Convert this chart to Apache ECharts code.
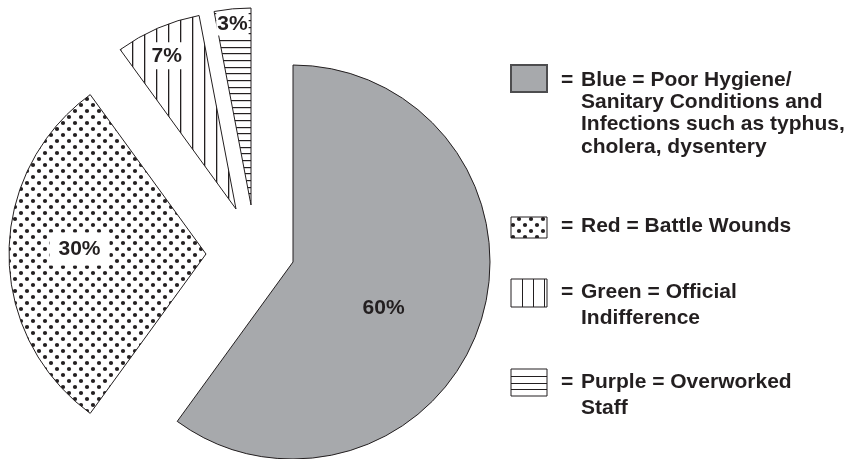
<!DOCTYPE html>
<html>
<head>
<meta charset="utf-8">
<script src="https://cdn.jsdelivr.net/npm/echarts@6/dist/echarts.min.js"></script>
<style>
  html, body { margin: 0; padding: 0; background: #fff; }
  #chart { width: 852px; height: 459px; }
</style>
</head>
<body>
<div id="chart"></div>
<script>
// Causes of death and their shares (%)
const causes = ['Poor Hygiene', 'Battle Wounds', 'Official Indifference', 'Overworked Staff'];
const shares = [60, 30, 7, 3];

// Legend wording, one array of lines per cause
const legendLines = [
  ['Blue = Poor Hygiene/', 'Sanitary Conditions and', 'Infections such as typhus,', 'cholera, dysentery'],
  ['Red = Battle Wounds'],
  ['Green = Official', 'Indifference'],
  ['Purple = Overworked', 'Staff']
];

const INK = '#231f20';
const GREY = '#a7a9ac';
const FONT = '"Liberation Sans", Arial, Helvetica, sans-serif';
const FONT_SIZE = 21;

// Hatch / dot tiles used as pattern fills
function tile(w, h, draw) {
  const c = document.createElement('canvas');
  c.width = w; c.height = h;
  const g = c.getContext('2d');
  g.fillStyle = '#fff';
  g.fillRect(0, 0, w, h);
  g.fillStyle = INK;
  draw(g);
  return c;
}
const dotTile = tile(12, 12, g => {
  [[3, 3], [9, 9]].forEach(([x, y]) => {
    g.beginPath(); g.arc(x, y, 2.1, 0, Math.PI * 2); g.fill();
  });
});
const vTile = tile(12, 12, g => g.fillRect(0, 0, 1.3, 12));
const hTile = tile(20, 20, g => [0, 7, 13].forEach(y => g.fillRect(0, y, 20, 1.2)));

const fills = [
  GREY,
  { image: dotTile, repeat: 'repeat' },
  { image: vTile, repeat: 'repeat' },
  { image: hTile, repeat: 'repeat' }
];

// Each slice is pulled out from its own centre (exploded pie)
const sliceCenters = [[293, 262], [206, 254], [236, 209], [251, 205]];
const RADIUS = 197;
const labelOffsets = [[-6, 15], [-25, -5], [-29, -60], [-9, -80]];
const labelBgs = ['transparent', '#fff', '#fff', '#fff'];
const labelPads = [[0, 0], [6, 9], [3, 4], [1, 1]];

const series = shares.map((_, k) => ({
  type: 'pie',
  center: sliceCenters[k],
  radius: RADIUS,
  startAngle: 90,
  clockwise: true,
  silent: true,
  animation: false,
  avoidLabelOverlap: false,
  z: 2 + k,
  labelLine: { show: false },
  emphasis: { disabled: true },
  label: {
    position: 'inside',
    formatter: p => p.value + '%',
    fontSize: FONT_SIZE,
    fontWeight: 'bold',
    fontFamily: FONT,
    color: INK,
    offset: labelOffsets[k],
    backgroundColor: labelBgs[k],
    padding: labelPads[k]
  },
  data: shares.map((v, i) => ({
    name: causes[i],
    value: v,
    itemStyle: i === k
      ? { color: fills[i], borderColor: INK, borderWidth: 1 }
      : { color: 'rgba(0,0,0,0)', borderWidth: 0 },
    label: { show: i === k }
  }))
}));

// Legend drawn as graphic elements
const boxes = [[511, 65, 36, 27], [511, 217, 36, 21], [511, 279, 36, 28], [511, 369, 36, 27]];
const firstLineY = [80, 226, 292.5, 382.5];
const lineGaps = [22.3, 22, 26, 26];
const graphic = [];
boxes.forEach(([x, y, w, h], i) => {
  if (i === 0) {
    graphic.push({ type: 'rect', shape: { x, y, width: w, height: h },
      style: { fill: GREY, stroke: '#4d4d4f', lineWidth: 2 } });
  } else if (i === 1) {
    graphic.push({ type: 'rect', shape: { x, y, width: w, height: h },
      style: { fill: { image: dotTile, repeat: 'repeat' }, stroke: INK, lineWidth: 1 } });
  } else {
    graphic.push({ type: 'rect', shape: { x, y, width: w, height: h },
      style: { fill: '#fff', stroke: INK, lineWidth: 1 } });
    const n = 3;
    for (let j = 1; j <= n; j++) {
      if (i === 2) {
        const lx = x + Math.round(w * j / (n + 0.3)) + 0.5;
        graphic.push({ type: 'line', shape: { x1: lx, y1: y, x2: lx, y2: y + h }, style: { stroke: INK, lineWidth: 1 } });
      } else {
        const ly = y + Math.round(h * j / (n + 1)) + 0.5;
        graphic.push({ type: 'line', shape: { x1: x, y1: ly, x2: x + w, y2: ly }, style: { stroke: INK, lineWidth: 1 } });
      }
    }
  }
  const top = firstLineY[i] - lineGaps[i] / 2;
  graphic.push({ type: 'text', x: 561, y: top,
    style: { text: '=', fontSize: FONT_SIZE, fontWeight: 'bold', fontFamily: FONT, fill: INK,
      verticalAlign: 'top', lineHeight: lineGaps[i] } });
  graphic.push({ type: 'text', x: 581, y: top,
    style: { text: legendLines[i].join('\n'), fontSize: FONT_SIZE, fontWeight: 'bold', fontFamily: FONT, fill: INK,
      verticalAlign: 'top', lineHeight: lineGaps[i] } });
});

const chart = echarts.init(document.getElementById('chart'), null, { renderer: 'canvas' });
chart.setOption({
  backgroundColor: '#fff',
  animation: false,
  series,
  graphic
});
</script>
</body>
</html>
